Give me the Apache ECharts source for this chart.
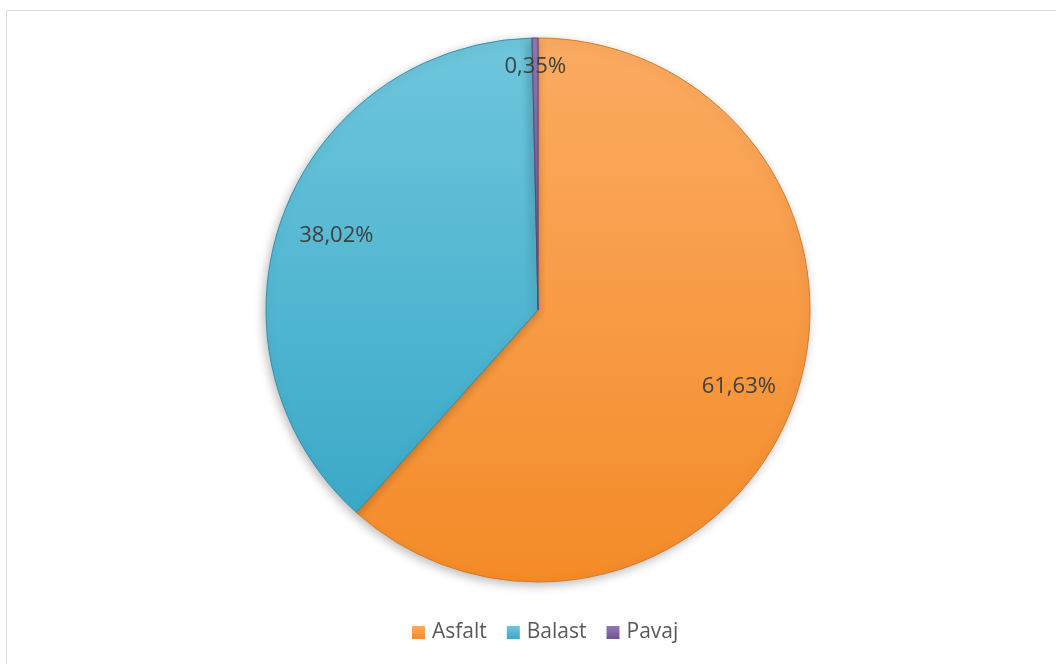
<!DOCTYPE html>
<html>
<head>
<meta charset="utf-8">
<script src="https://cdn.jsdelivr.net/npm/echarts@6/dist/echarts.min.js"></script>
<style>html,body{margin:0;padding:0;background:#fff;}#c{width:1056px;height:664px;}</style>
</head>
<body>
<div id="c"></div>
<script>
var categories = ['Asfalt', 'Balast', 'Pavaj'];
var values = [61.63, 38.02, 0.35];
var labelTexts = ['61,63%', '38,02%', '0,35%'];

var colors = [
  {top: '#fbab62', bottom: '#f48b28', edge: '#d77a26'},
  {top: '#6ec6dc', bottom: '#3ba9c8', edge: '#3590aa'},
  {top: '#9279b6', bottom: '#6e5394', edge: '#5c447d'}
];

function grad(c) {
  return new echarts.graphic.LinearGradient(0, 0, 0, 1, [
    {offset: 0, color: c.top}, {offset: 1, color: c.bottom}
  ]);
}

var mainData = categories.map(function (name, i) {
  return {name: name, value: values[i], itemStyle: {color: grad(colors[i]), borderColor: colors[i].edge}};
});

function overlayData(show) {
  return categories.map(function (name, i) {
    return {name: name, value: values[i], label: {show: show[i], formatter: labelTexts[i]}};
  });
}

var chart = echarts.init(document.getElementById('c'));
chart.setOption({
  animation: false,
  backgroundColor: '#fff',
  graphic: [{
    type: 'rect', shape: {x: 6.5, y: 10.5, width: 1060, height: 660},
    style: {fill: 'none', stroke: '#d9d9d9', lineWidth: 1}, silent: true, z: -1
  }],
  legend: {
    data: categories.map(function (n, i) {
      return {name: n, itemStyle: {color: grad(colors[i]), borderWidth: 0}};
    }),
    bottom: 16,
    left: 407,
    icon: 'rect',
    itemWidth: 13,
    itemHeight: 13,
    itemGap: 20,
    textStyle: {color: '#595959', fontSize: 21, fontFamily: 'Open Sans', padding: [0, 0, 0, 2]},
  },
  series: [{
    type: 'pie',
    center: [538, 310],
    radius: [0, 272],
    startAngle: 90,
    clockwise: true,
    silent: true,
    label: {show: false},
    labelLine: {show: false},
    itemStyle: {borderWidth: 1, shadowBlur: 10, shadowColor: 'rgba(0,0,0,0.25)', shadowOffsetX: -2, shadowOffsetY: 3},
    data: mainData
  }, {
    type: 'pie',
    center: [538, 310],
    radius: [200, 224],
    startAngle: 90,
    silent: true,
    itemStyle: {color: 'rgba(0,0,0,0)'},
    label: {position: 'inside', color: '#404040', fontSize: 22, fontFamily: 'Open Sans'},
    labelLine: {show: false},
    data: overlayData([true, true, false])
  }, {
    type: 'pie',
    center: [538, 310],
    radius: [228, 252],
    startAngle: 90,
    silent: true,
    itemStyle: {color: 'rgba(0,0,0,0)'},
    label: {position: 'inside', color: '#404040', fontSize: 22, fontFamily: 'Open Sans'},
    labelLine: {show: false},
    data: overlayData([false, false, true])
  }]
});
</script>
</body>
</html>
